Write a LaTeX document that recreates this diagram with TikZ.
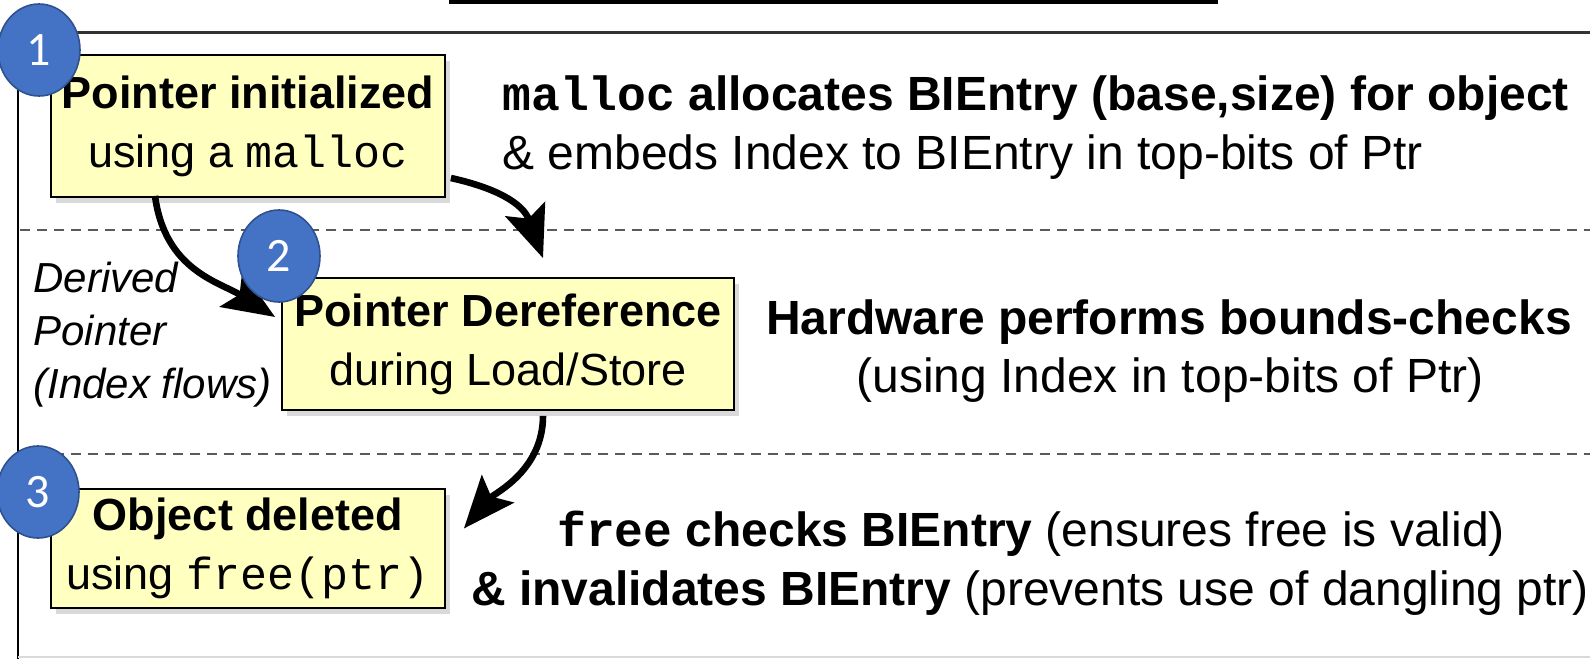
\documentclass[tikz,border=0pt]{standalone}
\usepackage{fontspec}
\setmainfont{Liberation Sans}
\setmonofont{Liberation Mono}
\newfontfamily\numfont{Carlito}
\usetikzlibrary{shapes.geometric}
\usetikzlibrary{shadows}
\usetikzlibrary{arrows.meta}

\definecolor{boxyellow}{HTML}{FFFFC0}
\definecolor{numblue}{HTML}{4472C4}
\definecolor{numedge}{HTML}{2F528F}
\definecolor{sepgray}{HTML}{5A5A5A}

\tikzset{
	stagebox/.style={draw, line width=0.9pt, fill=boxyellow, align=center, inner sep=0pt,
		font=\fontsize{22.5}{29.5}\selectfont,
		drop shadow={shadow xshift=2.5pt, shadow yshift=-3pt, opacity=0.3}},
	stagenum/.style={ellipse, draw=numedge, line width=0.8pt, fill=numblue, text=white,
		minimum width=41pt, minimum height=46pt, inner sep=0pt,
		font=\numfont\fontsize{24}{24}\selectfont},
	note/.style={inner sep=0pt, font=\fontsize{24}{29.5}\selectfont},
	flow/.style={line width=3.3pt, -{Stealth[length=26pt, width=21pt, inset=5pt]}},
	sep/.style={sepgray, line width=0.8pt, dash pattern=on 5pt off 3.5pt}
}

\begin{document}
\begin{tikzpicture}[x=0.5pt, y=-0.5pt]
	\useasboundingbox (0,0) rectangle (1590,659);

%% Frame
	\draw[line width=2.5pt] (449,1)--(1218,1);
	\draw[line width=1.5pt, black!80] (18,32)--(1590,32);
	\draw[line width=1pt] (18,32)--(18,659);
	\draw[line width=0.8pt, black!15] (18,657)--(1590,657);
	\draw[sep] (20,230)--(1590,230);
	\draw[sep] (20,454)--(1590,454);

%% Stages
	\draw (248,126) node[stagebox, minimum width=197pt, minimum height=71pt] (init){\textbf{Pointer initialized}\\using a \texttt{malloc}};
	\draw (508,344) node[stagebox, minimum width=226pt, minimum height=66pt] (deref){\textbf{Pointer Dereference}\\during Load/Store};
	\draw (248,548.5) node[stagebox, minimum width=197pt, minimum height=59.5pt] (dele){\textbf{Object deleted}\\using \texttt{free(ptr)}};

%% Notes
	\draw (502,98) node[note, anchor=west] (allocnote){\textbf{\texttt{malloc} allocates BIEntry (base,size) for object}};
	\draw (502,157) node[note, anchor=west] (embednote){\& embeds Index to BIEntry in top-bits of Ptr};
	\draw (1169,322) node[note] (hwnote){\textbf{Hardware performs bounds-checks}};
	\draw (1170,380) node[note] (hwsub){(using Index in top-bits of Ptr)};
	\draw (1031,534) node[note] (freenote){\textbf{\texttt{free} checks BIEntry} (ensures free is valid)};
	\draw (1030,593) node[note] (invalnote){\textbf{\& invalidates BIEntry} (prevents use of dangling ptr)};
	\draw (33,335) node[note, anchor=west, align=left, font=\itshape\fontsize{21}{26.5}\selectfont] (derived){Derived\\Pointer\\(Index flows)};

	% Lines
	\draw[flow] ([xshift=-46.5pt, yshift=1pt]init.south) .. controls +(10,75) and +(-55,-35) .. ([xshift=-3pt, yshift=13.5pt]deref.west);
	\draw[flow] ([xshift=2.5pt, yshift=-26pt]init.east) .. controls +(45,10) and +(-20,-55) .. ([xshift=17.5pt, yshift=9.5pt]deref.north);
	\draw[flow] ([xshift=17.5pt, yshift=-2.5pt]deref.south) .. controls +(0,55) and +(30,-35) .. ([xshift=9pt, yshift=10pt]dele.east);

%% Step numbers
	\draw (39,50) node[stagenum] (one){1};
	\draw (279,256) node[stagenum] (two){2};
	\draw (38,492) node[stagenum] (three){3};
\end{tikzpicture}
\end{document}
